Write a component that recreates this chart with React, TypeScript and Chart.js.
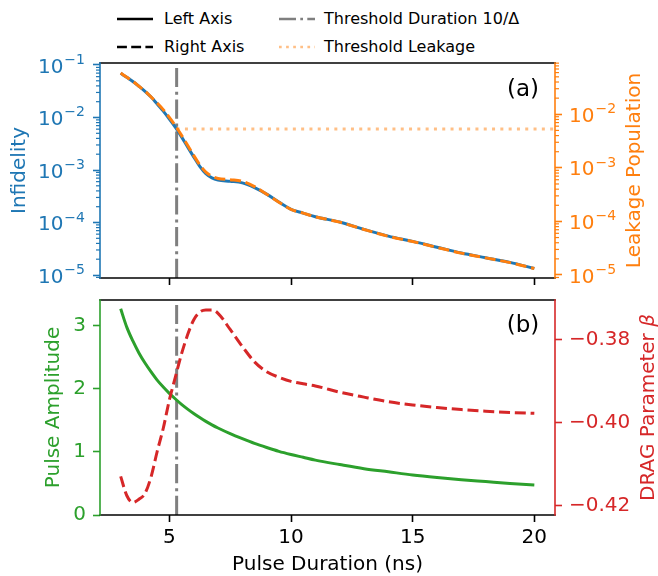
import React, { useEffect, useRef } from "react";
import { Chart, registerables } from "chart.js";

Chart.register(...registerables);

// ---------------- data ----------------
const durations = [3, 3.25, 3.5, 3.75, 4, 4.25, 4.5, 4.75, 5, 5.25, 5.5, 5.75, 6, 6.25, 6.5, 6.75, 7, 7.5, 8, 8.5, 9, 9.5, 10, 10.5, 11, 12, 13, 14, 15, 16, 17, 18, 19, 20];
const infidelity = [6.95e-2, 5.82e-2, 4.84e-2, 3.94e-2, 3.16e-2, 2.45e-2, 1.8e-2, 1.32e-2, 9.33e-3, 6.46e-3, 4.27e-3, 2.75e-3, 1.78e-3, 1.17e-3, 8.51e-4, 7.08e-4, 6.46e-4, 6.1e-4, 5.69e-4, 4.62e-4, 3.47e-4, 2.45e-4, 1.78e-4, 1.51e-4, 1.29e-4, 1.02e-4, 7.41e-5, 5.5e-5, 4.37e-5, 3.39e-5, 2.63e-5, 2.14e-5, 1.74e-5, 1.33e-5];
const leakage = [5.89e-2, 4.91e-2, 4.1e-2, 3.34e-2, 2.7e-2, 2.1e-2, 1.62e-2, 1.22e-2, 8.73e-3, 6.08e-3, 4.05e-3, 2.64e-3, 1.71e-3, 1.14e-3, 8.32e-4, 6.95e-4, 6.35e-4, 6.0e-4, 5.6e-4, 4.47e-4, 3.22e-4, 2.29e-4, 1.67e-4, 1.43e-4, 1.22e-4, 9.71e-5, 7.08e-5, 5.28e-5, 4.21e-5, 3.28e-5, 2.56e-5, 2.09e-5, 1.7e-5, 1.32e-5];
const amplitude = [3.27, 2.98, 2.76, 2.57, 2.41, 2.27, 2.14, 2.03, 1.93, 1.84, 1.755, 1.68, 1.61, 1.545, 1.485, 1.43, 1.38, 1.29, 1.21, 1.135, 1.07, 1.01, 0.96, 0.915, 0.87, 0.8, 0.735, 0.685, 0.635, 0.595, 0.56, 0.53, 0.5, 0.475];
const dragBeta = [-0.4129, -0.4175, -0.4192, -0.4184, -0.417, -0.413, -0.4069, -0.4013, -0.3945, -0.3889, -0.3834, -0.3788, -0.3752, -0.3733, -0.3728, -0.3728, -0.3736, -0.3775, -0.3816, -0.3853, -0.3877, -0.389, -0.39, -0.3906, -0.3911, -0.3926, -0.3938, -0.3949, -0.3957, -0.3963, -0.3968, -0.3972, -0.3975, -0.3977];

const thresholdDuration = 5.3;
const thresholdLeakage = 5.3e-3;

const xTicks = [5, 10, 15, 20];
const xTickLabels = ["5", "10", "15", "20"];
const logTicks = [1e-5, 1e-4, 1e-3, 1e-2, 1e-1];
const logTickExponents = ["−5", "−4", "−3", "−2", "−1"];
const ampTicks = [0, 1, 2, 3];
const ampTickLabels = ["0", "1", "2", "3"];
const betaTicks = [-0.42, -0.4, -0.38];
const betaTickLabels = ["−0.42", "−0.40", "−0.38"];

// axis limits
const X_MIN = 2.15;
const X_MAX = 20.85;
const INF_MIN = Math.pow(10, -5.057);
const INF_MAX = Math.pow(10, -0.962);
const LEAK_MIN = Math.pow(10, -5.056);
const LEAK_MAX = Math.pow(10, -1.043);
const AMP_MIN = 0;
const AMP_MAX = 3.41;
const BETA_MIN = -0.4222;
const BETA_MAX = -0.3704;

// ---------------- style ----------------
const FONT = "'DejaVu Sans', sans-serif";
const BLUE = "#1f77b4";
const ORANGE = "#ff7f0e";
const GREEN = "#2ca02c";
const RED = "#d62728";
const GRAY = "#7f7f7f";
const LIGHT_ORANGE = "#ffbf86";

function labelFor(value: number, ticks: number[], labels: string[]) {
  for (let i = 0; i < ticks.length; i++) {
    if (Math.abs(ticks[i] - value) <= Math.abs(ticks[i]) * 1e-6 + 1e-12) return labels[i];
  }
  return "";
}

function minorLogValues(min: number, max: number) {
  const out: number[] = [];
  const k0 = Math.floor(Math.log10(min)) - 1;
  const k1 = Math.ceil(Math.log10(max)) + 1;
  for (let k = k0; k <= k1; k++) {
    for (let m = 2; m <= 9; m++) {
      const v = m * Math.pow(10, k);
      if (v >= min && v <= max) out.push(v);
    }
  }
  return out;
}

const decorPlugin = {
  id: "decor",
  afterDatasetsDraw(chart: any, _args: any, opts: any) {
    const ctx = chart.ctx as CanvasRenderingContext2D;
    const { left, right, top, bottom } = chart.chartArea;
    ctx.save();
    const seg = (x1: number, y1: number, x2: number, y2: number, color: string, w: number, cap: CanvasLineCap) => {
      ctx.strokeStyle = color;
      ctx.lineWidth = w;
      ctx.lineCap = cap;
      ctx.setLineDash([]);
      ctx.beginPath();
      ctx.moveTo(x1, y1);
      ctx.lineTo(x2, y2);
      ctx.stroke();
    };
    // minor ticks and power-of-ten labels for log axes
    for (const m of opts.logAxes || []) {
      const scale = chart.scales[m.id];
      const vals = minorLogValues(scale.min, scale.max);
      for (const v of vals) {
        const y = scale.getPixelForValue(v);
        if (m.side === "left") seg(left - 4, y, left, y, m.color, 1.2, "butt");
        else seg(right, y, right + 4, y, m.color, 1.2, "butt");
      }
      ctx.fillStyle = m.color;
      ctx.textBaseline = "alphabetic";
      ctx.textAlign = "left";
      logTicks.forEach((v, i) => {
        if (v < scale.min || v > scale.max) return;
        const y = scale.getPixelForValue(v);
        const base = "10";
        const sup = logTickExponents[i];
        ctx.font = `20px ${FONT}`;
        const wb = ctx.measureText(base).width;
        ctx.font = `14px ${FONT}`;
        const ws = ctx.measureText(sup).width;
        const x0 = m.side === "left" ? left - 15 - wb - ws - 1 : right + 14;
        const baseline = y + 7.6;
        ctx.font = `20px ${FONT}`;
        ctx.fillText(base, x0, baseline);
        ctx.font = `14px ${FONT}`;
        ctx.fillText(sup, x0 + wb + 1, baseline - 8.6);
      });
    }
    // spines
    seg(left, top, right, top, "#000", 1.6, "square");
    seg(left, bottom, right, bottom, "#000", 1.6, "square");
    seg(left, top, left, bottom, opts.leftColor, 1.6, "square");
    seg(right, top, right, bottom, opts.rightColor, 1.6, "square");
    // panel label
    ctx.fillStyle = "#000";
    ctx.font = `23px ${FONT}`;
    ctx.textAlign = "center";
    ctx.textBaseline = "middle";
    ctx.fillText(opts.label, opts.labelX, opts.labelY);
    // right axis title, rotated like matplotlib (bottom to top)
    const cy = (top + bottom) / 2;
    ctx.translate(opts.rightTitleX, cy);
    ctx.rotate(-Math.PI / 2);
    ctx.fillStyle = opts.rightColor;
    ctx.textBaseline = "middle";
    const normalFont = `20px ${FONT}`;
    const italicFont = `italic 20px ${FONT}`;
    ctx.font = normalFont;
    const w1 = ctx.measureText(opts.rightTitle).width;
    let w2 = 0;
    if (opts.rightTitleItalic) {
      ctx.font = italicFont;
      w2 = ctx.measureText(opts.rightTitleItalic).width;
    }
    const start = -(w1 + w2) / 2;
    ctx.textAlign = "left";
    ctx.font = normalFont;
    ctx.fillText(opts.rightTitle, start, 0);
    if (opts.rightTitleItalic) {
      ctx.font = italicFont;
      ctx.fillText(opts.rightTitleItalic, start + w1, 0);
    }
    ctx.restore();
  },
};

function pts(xs: number[], ys: number[]) {
  return xs.map((x, i) => ({ x, y: ys[i] }));
}

const tickFont = { family: FONT, size: 20 };

export default function App() {
  const topRef = useRef<HTMLCanvasElement>(null);
  const botRef = useRef<HTMLCanvasElement>(null);

  useEffect(() => {
    if (!topRef.current || !botRef.current) return;

    const lineBase = { pointRadius: 0, fill: false, cubicInterpolationMode: "monotone" as const };

    const top = new Chart(topRef.current, {
      type: "line",
      data: {
        datasets: [
          { ...lineBase, label: "Infidelity", data: pts(durations, infidelity), borderColor: BLUE, borderWidth: 3, yAxisID: "y", order: 3 },
          { ...lineBase, label: "Leakage", data: pts(durations, leakage), borderColor: ORANGE, borderWidth: 3, borderDash: [11, 4.8], yAxisID: "y2", order: 0 },
          { ...lineBase, label: "Threshold Duration", data: [{ x: thresholdDuration, y: INF_MIN }, { x: thresholdDuration, y: INF_MAX }], borderColor: GRAY, borderWidth: 3, borderDash: [19.2, 4.8, 3, 4.8], yAxisID: "y", order: 4 },
          { ...lineBase, label: "Threshold Leakage", data: [{ x: thresholdDuration, y: thresholdLeakage }, { x: X_MAX, y: thresholdLeakage }], borderColor: LIGHT_ORANGE, borderWidth: 3, borderDash: [3, 5.3], yAxisID: "y2", order: 1 },
        ],
      },
      options: {
        animation: false,
        responsive: false,
        events: [],
        layout: { padding: { top: 63, left: 0, right: 0, bottom: 0 } },
        plugins: {
          legend: { display: false },
          tooltip: { enabled: false },
          decor: { leftColor: BLUE, rightColor: ORANGE, label: "(a)", labelX: 523, labelY: 90, rightTitle: "Leakage Population", rightTitleX: 635, logAxes: [{ id: "y", side: "left", color: BLUE }, { id: "y2", side: "right", color: ORANGE }] },
        } as any,
        scales: {
          x: {
            type: "linear",
            min: X_MIN,
            max: X_MAX,
            afterBuildTicks: (s: any) => { s.ticks = xTicks.map((v) => ({ value: v })); },
            afterFit: (s: any) => { s.height = 12; s.paddingLeft = 0; s.paddingRight = 0; },
            grid: { display: true, drawOnChartArea: false, drawTicks: true, tickLength: 7, tickWidth: 1.6, tickColor: "#000" },
            border: { display: false },
            ticks: { autoSkip: false, maxRotation: 0, callback: () => "" },
          },
          y: {
            type: "logarithmic",
            position: "left",
            min: INF_MIN,
            max: INF_MAX,
            afterBuildTicks: (s: any) => { s.ticks = logTicks.filter((v) => v >= s.min && v <= s.max).map((v) => ({ value: v })); },
            afterFit: (s: any) => { s.width = 100; s.paddingTop = 0; s.paddingBottom = 0; },
            grid: { display: true, drawOnChartArea: false, tickLength: 7, tickWidth: 1.6, tickColor: BLUE },
            border: { display: false },
            ticks: { autoSkip: false, color: BLUE, font: tickFont, padding: 7, callback: () => "" },
            title: { display: true, text: "Infidelity", color: BLUE, font: { family: FONT, size: 20, lineHeight: 1.2 }, padding: { top: 7.5, bottom: 0 } },
          },
          y2: {
            type: "logarithmic",
            position: "right",
            min: LEAK_MIN,
            max: LEAK_MAX,
            afterBuildTicks: (s: any) => { s.ticks = logTicks.filter((v) => v >= s.min && v <= s.max).map((v) => ({ value: v })); },
            afterFit: (s: any) => { s.width = 103; s.paddingTop = 0; s.paddingBottom = 0; },
            grid: { display: true, drawOnChartArea: false, tickLength: 7, tickWidth: 1.6, tickColor: ORANGE },
            border: { display: false },
            ticks: { autoSkip: false, color: ORANGE, font: tickFont, padding: 7, callback: () => "" },
          },
        },
      } as any,
      plugins: [decorPlugin],
    });

    const bottom = new Chart(botRef.current, {
      type: "line",
      data: {
        datasets: [
          { ...lineBase, label: "Pulse Amplitude", data: pts(durations, amplitude), borderColor: GREEN, borderWidth: 3, yAxisID: "y", order: 2 },
          { ...lineBase, label: "DRAG", data: pts(durations, dragBeta), borderColor: RED, borderWidth: 3, borderDash: [11, 4.8], yAxisID: "y2", order: 0 },
          { ...lineBase, label: "Threshold Duration", data: [{ x: thresholdDuration, y: AMP_MIN }, { x: thresholdDuration, y: AMP_MAX }], borderColor: GRAY, borderWidth: 3, borderDash: [19.2, 4.8, 3, 4.8], yAxisID: "y", order: 3 },
        ],
      },
      options: {
        animation: false,
        responsive: false,
        events: [],
        layout: { padding: { top: 10, left: 0, right: 0, bottom: 0 } },
        plugins: {
          legend: { display: false },
          tooltip: { enabled: false },
          decor: { leftColor: GREEN, rightColor: RED, label: "(b)", labelX: 523, labelY: 36, rightTitle: "DRAG Parameter ", rightTitleItalic: "β", rightTitleX: 649, logAxes: [] },
        } as any,
        scales: {
          x: {
            type: "linear",
            min: X_MIN,
            max: X_MAX,
            afterBuildTicks: (s: any) => { s.ticks = xTicks.map((v) => ({ value: v })); },
            afterFit: (s: any) => { s.height = 61; s.paddingLeft = 0; s.paddingRight = 0; },
            grid: { display: true, drawOnChartArea: false, drawTicks: true, tickLength: 7, tickWidth: 1.6, tickColor: "#000" },
            border: { display: false },
            ticks: { autoSkip: false, maxRotation: 0, color: "#000", font: tickFont, padding: 4, callback: (v: any) => labelFor(Number(v), xTicks, xTickLabels) },
            title: { display: true, text: "Pulse Duration (ns)", color: "#000", font: { family: FONT, size: 20, lineHeight: 1.1 }, padding: 0 },
          },
          y: {
            type: "linear",
            position: "left",
            min: AMP_MIN,
            max: AMP_MAX,
            afterBuildTicks: (s: any) => { s.ticks = ampTicks.map((v) => ({ value: v })); },
            afterFit: (s: any) => { s.width = 100; s.paddingTop = 0; s.paddingBottom = 0; },
            grid: { display: true, drawOnChartArea: false, tickLength: 7, tickWidth: 1.6, tickColor: GREEN },
            border: { display: false },
            ticks: { autoSkip: false, color: GREEN, font: tickFont, padding: 7, callback: (v: any) => labelFor(Number(v), ampTicks, ampTickLabels) },
            title: { display: true, text: "Pulse Amplitude", color: GREEN, font: { family: FONT, size: 20, lineHeight: 1.2 }, padding: { top: 42, bottom: 0 } },
          },
          y2: {
            type: "linear",
            position: "right",
            min: BETA_MIN,
            max: BETA_MAX,
            afterBuildTicks: (s: any) => { s.ticks = betaTicks.map((v) => ({ value: v })); },
            afterFit: (s: any) => { s.width = 103; s.paddingTop = 0; s.paddingBottom = 0; },
            grid: { display: true, drawOnChartArea: false, tickLength: 7, tickWidth: 1.6, tickColor: RED },
            border: { display: false },
            ticks: { autoSkip: false, color: RED, font: tickFont, padding: 7, callback: (v: any) => labelFor(Number(v), betaTicks, betaTickLabels) },
          },
        },
      } as any,
      plugins: [decorPlugin],
    });

    return () => {
      top.destroy();
      bottom.destroy();
    };
  }, []);

  const legendText: React.CSSProperties = { position: "absolute", fontSize: 16, lineHeight: "16px", color: "#000", whiteSpace: "nowrap" };
  const handle = (left: number, y: number, color: string, dash: string | undefined) => (
    <svg style={{ position: "absolute", left, top: y - 4 }} width={36} height={8}>
      <line x1={0} y1={4} x2={36} y2={4} stroke={color} strokeWidth={2.7} strokeDasharray={dash} />
    </svg>
  );

  return (
    <div style={{ position: "absolute", left: 0, top: 0, width: 658, height: 576, background: "#fff", fontFamily: FONT, overflow: "hidden" }}>
      {handle(117, 18.5, "#000", undefined)}
      <div style={{ ...legendText, left: 164, top: 10.5 }}>Left Axis</div>
      {handle(117, 47, "#000", "9.9 4.3")}
      <div style={{ ...legendText, left: 164, top: 39 }}>Right Axis</div>
      {handle(279, 18.5, GRAY, "17 4.3 2.7 4.3")}
      <div style={{ ...legendText, left: 324, top: 10.5 }}>Threshold Duration 10/Δ</div>
      {handle(279, 47, LIGHT_ORANGE, "2.7 4.4")}
      <div style={{ ...legendText, left: 324, top: 39 }}>Threshold Leakage</div>
      <canvas ref={topRef} width={658} height={290} style={{ position: "absolute", left: 0, top: 0, width: 658, height: 290 }} />
      <canvas ref={botRef} width={658} height={286} style={{ position: "absolute", left: 0, top: 290, width: 658, height: 286 }} />
    </div>
  );
}
